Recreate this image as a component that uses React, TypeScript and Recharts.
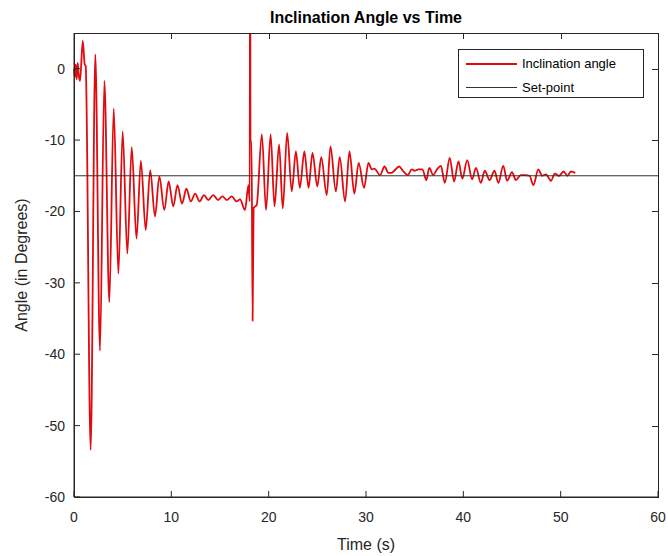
import { LineChart, Line, XAxis, YAxis } from 'recharts'

// (seconds / degrees)
const time = [
  0, 0.08, 0.18, 0.28, 0.38, 0.5, 0.62, 0.9, 1.1, 1.2,
  1.71, 2.19, 2.67, 3.12, 3.63, 4.08, 4.56, 5.0, 5.48, 5.93,
  6.42, 6.87, 7.37, 7.83, 8.32, 8.77, 9.28, 9.72, 10.2, 10.63,
  11.1, 11.55, 12.0, 12.45, 12.9, 13.35, 13.8, 14.3, 14.8, 15.25,
  15.7, 16.2, 16.7, 17.06, 17.57, 17.92, 18.05, 18.1, 18.13, 18.24,
  18.35, 18.45, 18.77, 19.3, 19.73, 20.2, 20.6, 21.07, 21.45, 21.9,
  22.37, 22.8, 23.2, 23.67, 24.1, 24.5, 25.0, 25.4, 25.97, 26.35,
  26.9, 27.3, 27.85, 28.3, 28.8, 29.25, 29.8, 30.25, 30.6, 30.85,
  31.45, 31.9, 32.3, 32.6, 32.9, 33.4, 33.8, 34.3, 34.7, 35.0,
  35.4, 35.8, 36.2, 36.5, 36.9, 37.3, 37.7, 38.1, 38.6, 39.05,
  39.5, 39.9, 40.4, 40.9, 41.3, 41.8, 42.2, 42.7, 43.2, 43.6,
  44.1, 44.5, 45.0, 45.4, 45.9, 46.35, 46.8, 47.2, 47.7, 48.1,
  48.5, 49.0, 49.4, 49.85, 50.3, 50.7, 51.05, 51.5,
]
const angle = [
  0, -1.2, 0.6, -1.5, 0.8, -1.0, -1.7, 3.9, 0.6, 0.4,
  -53.4, 2.0, -39.5, -1.7, -32.7, -5.6, -28.7, -8.8, -25.9, -11.0,
  -23.8, -12.9, -22.6, -14.2, -20.7, -15.1, -19.8, -15.8, -19.3, -16.3,
  -18.9, -16.8, -18.6, -17.5, -18.6, -17.7, -18.4, -17.7, -18.4, -17.9,
  -18.4, -17.9, -18.6, -18.3, -19.8, -16.3, -18.6, 30, -10.2, -10.2,
  -35.3, -19.5, -19.1, -9.2, -19.8, -9.2, -19.3, -10.6, -19.6, -9.0,
  -17.2, -11.6, -16.7, -11.6, -16.7, -11.8, -16.5, -12.4, -17.7, -10.9,
  -17.2, -12.4, -18.6, -11.6, -17.5, -13.2, -16.7, -13.2, -14.1, -14.0,
  -14.9, -13.7, -14.6, -14.6, -14.3, -13.7, -14.3, -14.9, -14.1, -14.3,
  -14.1, -14.1, -15.6, -13.9, -14.9, -14.1, -13.6, -16.0, -12.5, -15.8,
  -13.0, -15.4, -12.8, -15.5, -13.9, -16.0, -14.3, -15.6, -14.3, -16.0,
  -13.6, -15.7, -14.5, -15.6, -14.9, -14.9, -15.0, -16.3, -14.1, -15.0,
  -14.8, -15.7, -14.7, -15.0, -14.4, -15.0, -14.4, -14.6,
]
const setPointTime = [0, 60]
const setPointValue = [-15, -15]
const xTicks = [0, 10, 20, 30, 40, 50, 60]
const yTicks = [-60, -50, -40, -30, -20, -10, 0]
const xDomain = [0, 60]
const yDomain = [-60, 5]

const data = time.map((t, i) => ({ t, angle: angle[i] }))
const setData = setPointTime.map((t, i) => ({ t, sp: setPointValue[i] }))

const axisColor = '#262626'
const font = '"Liberation Sans", Arial, Helvetica, sans-serif'

// plot box
const W = 668
const H = 556
const margin = { top: 33, right: 10, bottom: 29, left: 30 }
const plotL = margin.left + 44
const plotR = W - margin.right
const plotT = margin.top
const plotB = H - margin.bottom - 30

function BottomTick(props: any) {
  const { x, y, payload } = props
  return (
    <g>
      <line x1={x} x2={x} y1={y - 15} y2={y - 21} stroke={axisColor} />
      <text x={x} y={y} dy="0.71em" textAnchor="middle" fill={axisColor} fontSize={14} fontFamily={font}>
        {payload.value}
      </text>
    </g>
  )
}

function LeftTick(props: any) {
  const { x, y, payload } = props
  return (
    <g>
      <line x1={x + 9} x2={x + 15} y1={y} y2={y} stroke={axisColor} />
      <text x={x} y={y} dy="0.355em" textAnchor="end" fill={axisColor} fontSize={14} fontFamily={font}>
        {payload.value}
      </text>
    </g>
  )
}

// MATLAB-style box around the plot, ticks pointing inward on top and right
function BoxOverlay() {
  const sx = (v: number) => plotL + ((v - xDomain[0]) / (xDomain[1] - xDomain[0])) * (plotR - plotL)
  const sy = (v: number) => plotB - ((v - yDomain[0]) / (yDomain[1] - yDomain[0])) * (plotB - plotT)
  return (
    <div style={{ position: 'absolute', left: 0, top: 0, width: W, height: H, zIndex: 5, pointerEvents: 'none' }}>
      <div style={{ position: 'absolute', left: plotL, top: plotT, width: plotR - plotL + 1, height: plotB - plotT + 1, border: `1px solid ${axisColor}`, boxSizing: 'border-box' }} />
      {xTicks.map((v) => (
        <div key={'x' + v} style={{ position: 'absolute', left: Math.round(sx(v)), top: plotT, width: 1, height: 6, background: axisColor }} />
      ))}
      {yTicks.map((v) => (
        <div key={'y' + v} style={{ position: 'absolute', left: plotR - 6, top: Math.round(sy(v)), width: 6, height: 1, background: axisColor }} />
      ))}
    </div>
  )
}

export default function App() {
  return (
    <div style={{ position: 'relative', width: W, height: H, background: '#fff', fontFamily: font }}>
      <style>{'body{margin:0}'}</style>
      <LineChart width={W} height={H} data={data} margin={margin}>
        <XAxis
          dataKey="t"
          type="number"
          domain={xDomain}
          ticks={xTicks}
          interval={0}
          height={30}
          tickSize={0}
          tickMargin={15}
          tickLine={false}
          tick={BottomTick}
          stroke={axisColor}
        />
        <YAxis
          type="number"
          domain={yDomain}
          ticks={yTicks}
          interval={0}
          allowDataOverflow
          width={44}
          tickSize={0}
          tickMargin={9}
          tickLine={false}
          tick={LeftTick}
          stroke={axisColor}
        />
        <Line
          type="monotone"
          dataKey="angle"
          name="Inclination angle"
          stroke="#e00a0f"
          strokeWidth={1.8}
          dot={false}
          isAnimationActive={false}
        />
        <Line
          data={setData}
          dataKey="sp"
          name="Set-point"
          type="linear"
          stroke="#333"
          strokeWidth={1}
          dot={false}
          isAnimationActive={false}
        />
      </LineChart>
      <BoxOverlay />

      <div style={{ position: 'absolute', left: plotL, width: plotR - plotL, top: 8, textAlign: 'center', fontSize: 16, fontWeight: 700, lineHeight: '20px', color: '#000' }}>
        Inclination Angle vs Time
      </div>
      <div style={{ position: 'absolute', left: plotL, width: plotR - plotL, top: 535, textAlign: 'center', fontSize: 16, lineHeight: '20px', color: axisColor }}>
        Time (s)
      </div>
      <div style={{ position: 'absolute', left: 22, top: (plotT + plotB) / 2, transform: 'translate(-50%, -50%) rotate(-90deg)', whiteSpace: 'nowrap', fontSize: 16, lineHeight: '20px', color: axisColor }}>
        Angle (in Degrees)
      </div>

      {/* legend */}
      <div style={{ position: 'absolute', left: 458, top: 49, width: 184, height: 47, border: `1px solid ${axisColor}`, background: '#fff', fontSize: 13, color: '#000', zIndex: 6 }}>
        <div style={{ position: 'absolute', left: 7, top: 13, width: 51, height: 2, background: '#e00a0f' }} />
        <div style={{ position: 'absolute', left: 63, top: 5, lineHeight: '18px' }}>Inclination angle</div>
        <div style={{ position: 'absolute', left: 7, top: 37, width: 51, height: 1, background: '#333' }} />
        <div style={{ position: 'absolute', left: 63, top: 29, lineHeight: '18px' }}>Set-point</div>
      </div>
    </div>
  )
}
